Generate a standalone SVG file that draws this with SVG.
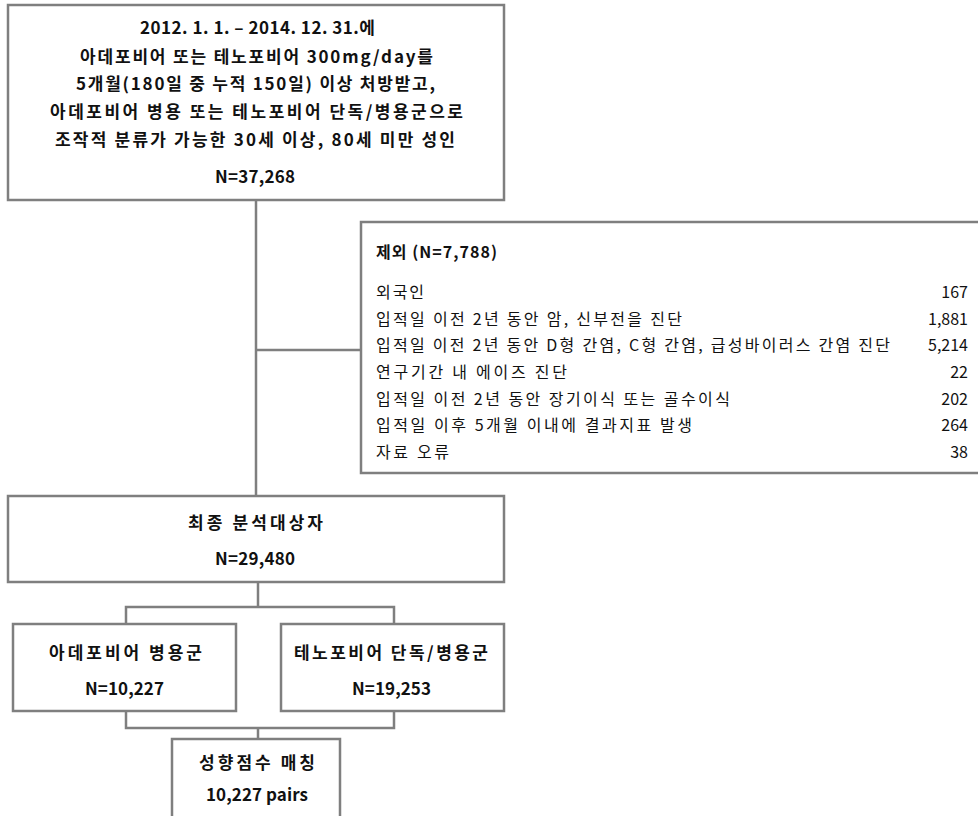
<svg xmlns="http://www.w3.org/2000/svg" width="978" height="816" viewBox="0 0 978 816">
<style>
.box{fill:#fff;stroke:#7f7f7f;stroke-width:2.5}
.ln{fill:none;stroke:#7f7f7f;stroke-width:2.5}
text{font-family:"Noto Sans CJK KR","Noto Sans",sans-serif;fill:#111}
.b{font-weight:bold;font-size:17px;text-anchor:middle}
.r{font-size:16px}
.n{font-size:16px;text-anchor:end}
</style>
<rect width="978" height="816" fill="#fff"/>
<g id="connectors">
<path class="ln" d="M256,200 V496"/>
<path class="ln" d="M256,350 H361"/>
<path class="ln" d="M258,582 V607 M126,624 V607 H394 V624"/>
<path class="ln" d="M126,711 V728 H394 V711 M258,728 V739"/>
</g>
<g id="start">
<rect class="box" x="8" y="5" width="496" height="195"/>
<text class="b" x="257.5" y="34" textLength="235" lengthAdjust="spacing">2012. 1. 1. – 2014. 12. 31.에</text>
<text class="b" x="256.5" y="63" textLength="353" lengthAdjust="spacing">아데포비어 또는 테노포비어 300mg/day를</text>
<text class="b" x="255.5" y="90" textLength="359" lengthAdjust="spacing">5개월(180일 중 누적 150일) 이상 처방받고,</text>
<text class="b" x="256.5" y="118" textLength="413" lengthAdjust="spacing">아데포비어 병용 또는 테노포비어 단독/병용군으로</text>
<text class="b" x="255" y="146" textLength="400" lengthAdjust="spacing">조작적 분류가 가능한 30세 이상, 80세 미만 성인</text>
<text class="b" x="255" y="183" textLength="80" lengthAdjust="spacing">N=37,268</text>
</g>
<g id="exclusion">
<rect class="box" x="361" y="222" width="620" height="251"/>
<text class="r" x="376" y="258" font-weight="bold" textLength="121" lengthAdjust="spacing">제외 (N=7,788)</text>
<text class="r" x="376" y="298" textLength="48" lengthAdjust="spacing">외국인</text><text class="n" x="968" y="298">167</text>
<text class="r" x="376" y="325" textLength="306" lengthAdjust="spacing">입적일 이전 2년 동안 암, 신부전을 진단</text><text class="n" x="968" y="325">1,881</text>
<text class="r" x="376" y="351" textLength="514" lengthAdjust="spacing">입적일 이전 2년 동안 D형 간염, C형 간염, 급성바이러스 간염 진단</text><text class="n" x="968" y="351">5,214</text>
<text class="r" x="376" y="378" textLength="191" lengthAdjust="spacing">연구기간 내 에이즈 진단</text><text class="n" x="968" y="378">22</text>
<text class="r" x="376" y="405" textLength="354" lengthAdjust="spacing">입적일 이전 2년 동안 장기이식 또는 골수이식</text><text class="n" x="968" y="405">202</text>
<text class="r" x="376" y="431" textLength="316" lengthAdjust="spacing">입적일 이후 5개월 이내에 결과지표 발생</text><text class="n" x="968" y="431">264</text>
<text class="r" x="376" y="458" textLength="73" lengthAdjust="spacing">자료 오류</text><text class="n" x="968" y="458">38</text>
</g>
<g id="final">
<rect class="box" x="8" y="496" width="496" height="86"/>
<text class="b" x="255.5" y="529" textLength="135" lengthAdjust="spacing">최종 분석대상자</text>
<text class="b" x="255" y="565" textLength="80" lengthAdjust="spacing">N=29,480</text>
</g>
<g id="adefovir">
<rect class="box" x="13" y="624" width="223" height="87"/>
<text class="b" x="125.5" y="659" textLength="153" lengthAdjust="spacing">아데포비어 병용군</text>
<text class="b" x="124.5" y="695" textLength="79" lengthAdjust="spacing">N=10,227</text>
</g>
<g id="tenofovir">
<rect class="box" x="281" y="624" width="223" height="87"/>
<text class="b" x="391" y="659" textLength="194" lengthAdjust="spacing">테노포비어 단독/병용군</text>
<text class="b" x="391.5" y="695" textLength="79" lengthAdjust="spacing">N=19,253</text>
</g>
<g id="matching">
<rect class="box" x="172" y="739" width="168" height="90"/>
<text class="b" x="257" y="769" textLength="116" lengthAdjust="spacing">성향점수 매칭</text>
<text class="b" x="257" y="801" textLength="102" lengthAdjust="spacing">10,227 pairs</text>
</g>
</svg>
